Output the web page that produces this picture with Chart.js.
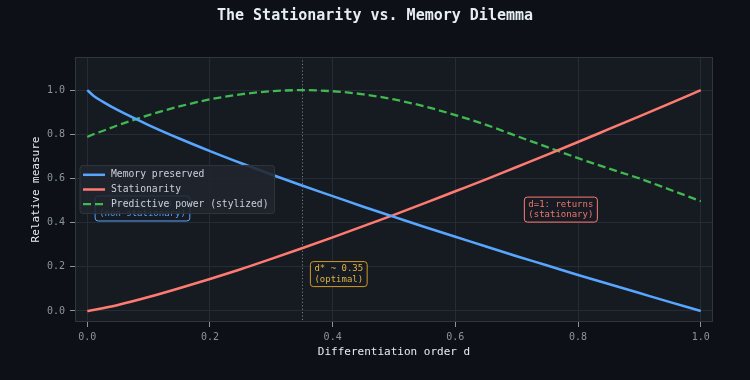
<!DOCTYPE html>
<html><head><meta charset="utf-8">
<script src="https://cdn.jsdelivr.net/npm/chart.js@4.4.1/dist/chart.umd.min.js"></script>
<style>html,body{margin:0;padding:0;background:#0d1117;}</style>
</head><body>
<canvas id="c" width="750" height="380"></canvas>
<script>
// ---- data ----
const dValues = [0, 0.01, 0.025, 0.05, 0.1, 0.15, 0.2, 0.25, 0.3, 0.35, 0.4, 0.45, 0.5, 0.55, 0.6, 0.65, 0.7, 0.75, 0.8, 0.85, 0.9, 0.95, 1.0];
const memoryPreserved = [1.0, 0.975, 0.948, 0.909, 0.842, 0.781, 0.724, 0.670, 0.618, 0.568, 0.520, 0.472, 0.426, 0.380, 0.336, 0.292, 0.248, 0.206, 0.163, 0.122, 0.081, 0.040, 0.0];
const stationarity = [0.0, 0.004, 0.012, 0.027, 0.063, 0.103, 0.145, 0.189, 0.236, 0.284, 0.333, 0.384, 0.435, 0.488, 0.542, 0.596, 0.652, 0.708, 0.765, 0.823, 0.881, 0.940, 1.0];
const predictivePower = [0.788, 0.800, 0.815, 0.841, 0.887, 0.926, 0.958, 0.981, 0.995, 1.0, 0.995, 0.981, 0.958, 0.926, 0.887, 0.843, 0.792, 0.742, 0.692, 0.645, 0.600, 0.549, 0.497];
const seriesNames = ['Memory preserved', 'Stationarity', 'Predictive power (stylized)'];
const xTickValues = [0.0, 0.2, 0.4, 0.6, 0.8, 1.0];
const yTickValues = [0.0, 0.2, 0.4, 0.6, 0.8, 1.0];
const optimalD = 0.35;
const annotationTexts = [
  ['d=0: prices', '(non-stationary)'],
  ['d=1: returns', '(stationary)'],
  ['d* ~ 0.35', '(optimal)']
];
const annotationAnchors = [[0.09, 0.464], [0.772, 0.459], [0.41, 0.167]];

// ---- style ----
const MONO = '"DejaVu Sans Mono", "Liberation Mono", monospace';
const COL = { blue: '#58a6ff', red: '#ff7b72', green: '#3fb950', gold: '#d29922' };
const annColors = [COL.blue, COL.red, COL.gold];
const annTextColors = [COL.blue, '#f0776e', '#e3b341'];

const pts = (ys) => dValues.map((d, i) => ({ x: d, y: ys[i] }));

const bgPlugin = {
  id: 'bg',
  beforeDraw(chart) {
    const { ctx, chartArea: a } = chart;
    ctx.save();
    ctx.fillStyle = '#0d1117';
    ctx.fillRect(0, 0, chart.width, chart.height);
    ctx.fillStyle = '#161b22';
    ctx.fillRect(a.left, a.top, a.right - a.left, a.bottom - a.top);
    ctx.restore();
  },
  beforeDatasetsDraw(chart) {
    const { ctx, chartArea: a, scales } = chart;
    const x = scales.x.getPixelForValue(optimalD);
    ctx.save();
    ctx.strokeStyle = 'rgba(139,148,158,0.8)';
    ctx.lineWidth = 1;
    ctx.setLineDash([1.2, 2.2]);
    ctx.beginPath();
    ctx.moveTo(Math.round(x) + 0.5, a.top);
    ctx.lineTo(Math.round(x) + 0.5, a.bottom);
    ctx.stroke();
    ctx.restore();
  },
  afterDatasetsDraw(chart) {
    const { ctx, chartArea: a, scales } = chart;
    ctx.save();
    // frame
    ctx.strokeStyle = '#30363d';
    ctx.lineWidth = 1;
    ctx.strokeRect(a.left + 0.5, a.top + 0.5, a.right - a.left - 1, a.bottom - a.top - 1);

    // annotations
    ctx.font = '9px ' + MONO;
    ctx.textAlign = 'center';
    ctx.textBaseline = 'middle';
    annotationTexts.forEach((lines, i) => {
      const cx = scales.x.getPixelForValue(annotationAnchors[i][0]);
      const cy = scales.y.getPixelForValue(annotationAnchors[i][1]);
      const lh = 10.5;
      const w = Math.max(...lines.map(t => ctx.measureText(t).width)) + 8;
      const h = lh * lines.length + 4;
      const x0 = cx - w / 2, y0 = cy - h / 2;
      ctx.beginPath();
      ctx.roundRect(x0, y0, w, h, 3);
      ctx.fillStyle = 'rgba(22,27,34,0.9)';
      ctx.fill();
      ctx.strokeStyle = annColors[i];
      ctx.lineWidth = 1;
      ctx.stroke();
      ctx.fillStyle = annTextColors[i];
      lines.forEach((t, j) => {
        ctx.fillText(t, cx, y0 + 2 + lh * (j + 0.5));
      });
    });

    // legend (center left)
    ctx.font = '9.7px ' + MONO;
    const ds = chart.data.datasets;
    const rowH = 14.7;
    const textW = Math.max(...ds.map(d => ctx.measureText(d.label).width));
    const bw = 31 + textW + 6;
    const bh = rowH * ds.length + 4;
    const bx = a.left + 5;
    const by = (a.top + a.bottom) / 2 - bh / 2;
    ctx.beginPath();
    ctx.roundRect(bx, by, bw, bh, 3);
    ctx.fillStyle = 'rgba(33,38,45,0.88)';
    ctx.fill();
    ctx.strokeStyle = '#30363d';
    ctx.lineWidth = 1;
    ctx.stroke();
    ctx.textAlign = 'left';
    ctx.textBaseline = 'middle';
    ds.forEach((d, i) => {
      const y = by + 2 + rowH * (i + 0.5);
      ctx.beginPath();
      ctx.strokeStyle = d.borderColor;
      ctx.lineWidth = d.borderWidth;
      ctx.setLineDash(d.borderDash || []);
      ctx.moveTo(bx + 3, y);
      ctx.lineTo(bx + 25, y);
      ctx.stroke();
      ctx.setLineDash([]);
      ctx.fillStyle = '#c9d1d9';
      ctx.fillText(d.label, bx + 31, y);
    });
    ctx.restore();
  },
  afterDraw(chart) {
    const { ctx } = chart;
    ctx.save();
    ctx.font = 'bold 15px ' + MONO;
    ctx.fillStyle = '#e6edf3';
    ctx.textAlign = 'center';
    ctx.textBaseline = 'middle';
    ctx.fillText('The Stationarity vs. Memory Dilemma', chart.width / 2, 16.5);
    ctx.restore();
  }
};

const axisCommon = (vals) => ({
  type: 'linear',
  afterBuildTicks: (s) => { s.ticks = vals.map(v => ({ value: v })); },
  ticks: {
    color: '#8b949e',
    font: { family: MONO, size: 10 },
    callback: (v) => Number(v).toFixed(1),
    autoSkip: false,
    maxRotation: 0
  },
  grid: { color: '#262c35', lineWidth: 1, drawTicks: true, tickLength: 5, tickColor: '#8b949e' },
  border: { display: false }
});

const xAxis = Object.assign(axisCommon(xTickValues), {
  min: -0.02, max: 1.02,
  title: { display: true, text: 'Differentiation order d', color: '#e6edf3', font: { family: MONO, size: 11 }, padding: 21.4 },
  afterFit: (s) => { s.height = 58; }
});
xAxis.ticks.padding = 4;
const yAxis = Object.assign(axisCommon(yTickValues), {
  min: -0.05, max: 1.15,
  title: { display: true, text: 'Relative measure', color: '#e6edf3', font: { family: MONO, size: 11 }, padding: 29.4 },
  afterFit: (s) => { s.width = 75; }
});
yAxis.ticks.padding = 5;

new Chart(document.getElementById('c'), {
  type: 'line',
  data: {
    datasets: [
      { label: seriesNames[0], data: pts(memoryPreserved), borderColor: COL.blue, borderWidth: 2.5 },
      { label: seriesNames[1], data: pts(stationarity), borderColor: COL.red, borderWidth: 2.5 },
      { label: seriesNames[2], data: pts(predictivePower), borderColor: COL.green, borderWidth: 2.3, borderDash: [8, 4] }
    ]
  },
  options: {
    responsive: false,
    animation: false,
    devicePixelRatio: 1,
    layout: { padding: { top: 57, right: 37, left: 0, bottom: 0 } },
    elements: { point: { radius: 0 }, line: { cubicInterpolationMode: 'monotone', fill: false } },
    plugins: { legend: { display: false }, tooltip: { enabled: false }, title: { display: false } },
    scales: { x: xAxis, y: yAxis }
  },
  plugins: [bgPlugin]
});
</script>
</body></html>
